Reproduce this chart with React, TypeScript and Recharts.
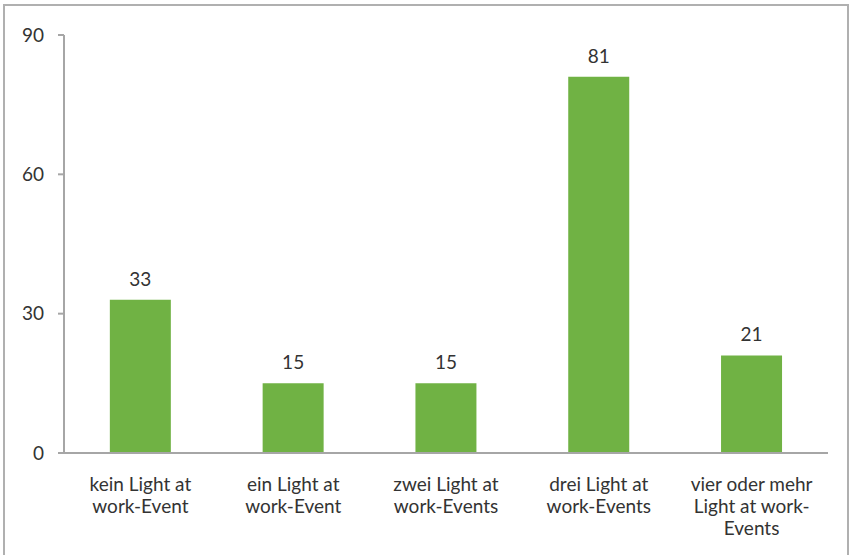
import { Bar, BarChart, LabelList, XAxis, YAxis } from "recharts";

const categories = [
  ["kein Light at", "work-Event"],
  ["ein Light at", "work-Event"],
  ["zwei Light at", "work-Events"],
  ["drei Light at", "work-Events"],
  ["vier oder mehr", "Light at work-", "Events"],
];
const values = [33, 15, 15, 81, 21];
const yTicks = [0, 30, 60, 90];

const data = categories.map((lines, i) => ({ name: lines.join(" "), value: values[i], idx: i }));

const FONT = "Lato, sans-serif";
const TEXT = "#333333";
const AXIS = "#a6a6a6";
const GREEN = "#70b244";

function CategoryTick({ x, y, payload }: any) {
  const lines = categories[payload.index] ?? [payload.value];
  return (
    <g>
      {lines.map((line, i) => (
        <text
          key={i}
          x={x}
          y={y + 30 + i * 22}
          textAnchor="middle"
          fill={TEXT}
          fontFamily={FONT}
          fontSize={19}
        >
          {line}
        </text>
      ))}
    </g>
  );
}

export default function App() {
  return (
    <div style={{ position: "absolute", left: 0, top: 0, width: 850, height: 555, background: "#fff", overflow: "hidden" }}>
      <div
        style={{
          position: "absolute",
          left: 3,
          top: 4,
          width: 842,
          height: 580,
          border: "2px solid #b0b0b0",
        }}
      />
      <BarChart
        width={850}
        height={555}
        data={data}
        margin={{ top: 35, right: 22, bottom: 12, left: 0 }}
        barCategoryGap="30%"
      >
        <XAxis
          dataKey="name"
          interval={0}
          tickLine={false}
          axisLine={{ stroke: AXIS, strokeWidth: 2 }}
          height={90}
          tick={<CategoryTick />}
        />
        <YAxis
          domain={[0, 90]}
          ticks={yTicks}
          width={64}
          tickSize={6}
          tickMargin={14}
          axisLine={{ stroke: AXIS, strokeWidth: 2 }}
          tickLine={{ stroke: AXIS, strokeWidth: 2 }}
          tick={{ fill: TEXT, fontFamily: FONT, fontSize: 19 }}
        />
        <Bar dataKey="value" fill={GREEN} isAnimationActive={false}>
          <LabelList
            dataKey="value"
            position="top"
            offset={14}
            fill={TEXT}
            fontFamily={FONT}
            fontSize={19}
          />
        </Bar>
      </BarChart>
    </div>
  );
}
